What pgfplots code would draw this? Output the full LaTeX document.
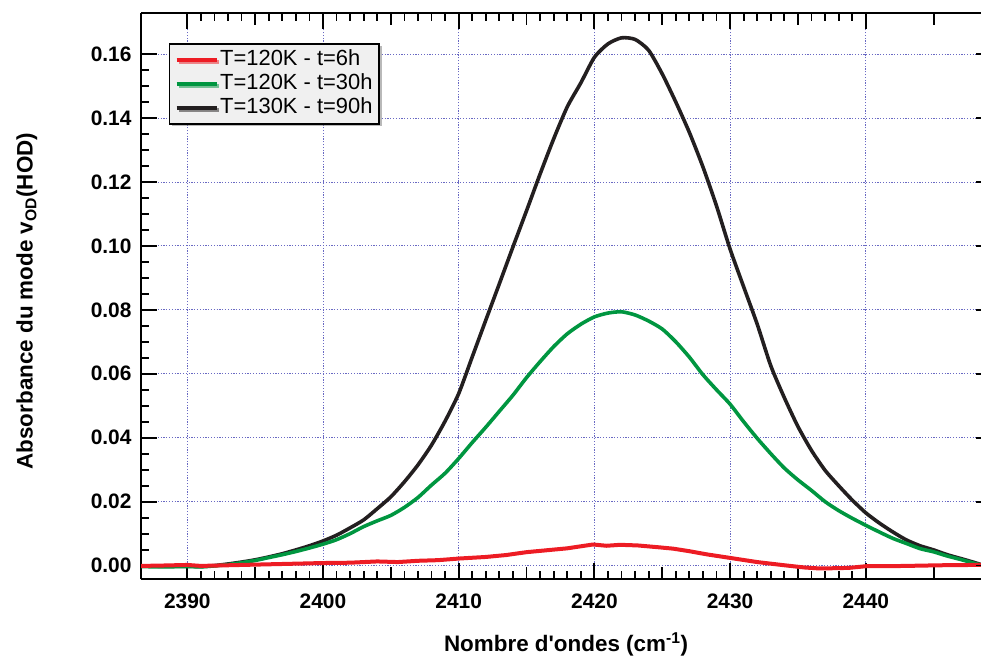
\documentclass[border=0pt]{standalone}
\usepackage{pgfplots}
\pgfplotsset{compat=1.18}
\usepackage{fontspec}
\setmainfont{Liberation Sans}
\usetikzlibrary{calc,shadows}
\definecolor{cred}{RGB}{237,28,36}
\definecolor{cgreen}{RGB}{0,150,64}
\definecolor{cblack}{RGB}{35,31,32}
\definecolor{cgrid}{RGB}{105,105,195}
\definecolor{clegend}{RGB}{240,240,240}
\begin{document}
\begin{tikzpicture}
\begin{axis}[
  scale only axis, width=840bp, height=566.6bp,
  xmin=2386.59, xmax=2448.49, ymin=-0.00429, ymax=0.17296,
  axis x line*=box, axis y line*=left,
  x axis line style={line width=2bp, black},
  y axis line style={-, line width=2bp, black},
  tick align=inside,
  xtick={2390,2400,2410,2420,2430,2440},
  ytick={0,0.02,0.04,0.06,0.08,0.10,0.12,0.14,0.16},
  minor x tick num=9, minor y tick num=3,
  extra x ticks={2395,2405,2415,2425,2435,2445},
  extra x tick labels={},
  extra x tick style={grid=none, major tick length=12bp},
  major tick length=16bp, minor tick length=8bp,
  xtick style={black, line width=1.8bp},
  ytick style={black, line width=1.8bp},
  grid=major,
  major grid style={cgrid, line width=0.9bp, dash pattern=on 1.2bp off 1.6bp},
  scaled y ticks=false,
  /pgf/number format/assume math mode=true,
  xticklabel style={/pgf/number format/1000 sep={}, anchor=base, yshift=-29bp},
  yticklabel style={/pgf/number format/.cd, fixed, fixed zerofill, precision=2, /tikz/.cd, xshift=-6bp},
  tick label style={font=\fontsize{21}{24}\selectfont\bfseries, black},
  label style={font=\fontsize{22.5}{26}\selectfont\bfseries, black},
  xlabel={Nombre d\textquotesingle ondes (cm\textsuperscript{-1})},
  ylabel={Absorbance du mode v\textsubscript{OD}(HOD)},
  xlabel style={at={(axis description cs:0.506,-0.127)}, anchor=base},
  ylabel style={at={(axis description cs:-0.129,0.491)}, anchor=base},
  reverse legend,
  legend cell align=left,
  legend image code/.code={\draw[#1] (2bp,0bp) -- (42bp,0bp);},
  legend style={at={(axis description cs:0.0333,0.9465)}, anchor=north west,
    fill=clegend, draw=black, line width=1.5bp,
    drop shadow={shadow xshift=2.5bp, shadow yshift=-2.5bp, fill=black!55},
    inner xsep=5bp, inner ysep=4bp,
    font=\fontsize{22}{26}\selectfont,
    nodes={inner sep=1.5bp, text height=16bp, text depth=5bp},
    row sep=0bp},
]
\addplot[cblack, line width=3.6bp, smooth, tension=0.4, no markers] coordinates {
(2386.6,-0.0001) (2388,-0.0002) (2390,-0.0002) (2391,-0.0003) (2392,0.0000)
(2393,0.0005) (2394,0.0011) (2395,0.0018) (2396,0.0027) (2397,0.0037)
(2398,0.0049) (2399,0.0062) (2400,0.0077) (2401,0.0095) (2402,0.0118)
(2403,0.0143) (2404,0.0178) (2405,0.0215) (2406,0.0262) (2407,0.0315)
(2408,0.0377) (2409,0.0452) (2410,0.0538) (2411,0.0653) (2412,0.0768)
(2413,0.0882) (2414,0.0997) (2415,0.1110) (2416,0.1225) (2417,0.1335)
(2418,0.1435) (2419,0.1510) (2420,0.1590) (2421,0.1632) (2422,0.1651)
(2423,0.1646) (2424,0.1612) (2425,0.1538) (2426,0.1450) (2427,0.1355)
(2428,0.1247) (2429,0.1125) (2430,0.0990) (2431,0.0872) (2432,0.0755)
(2433,0.0625) (2434,0.0525) (2435,0.0435) (2436,0.0360) (2437,0.0298)
(2438,0.0250) (2439,0.0205) (2440,0.0165) (2441,0.0133) (2442,0.0105)
(2443,0.0080) (2444,0.0062) (2445,0.0049) (2446,0.0034) (2447,0.0022)
(2447.9,0.0011) (2448.5,0.0003)
};
\addplot[cgreen, line width=3.6bp, smooth, tension=0.4, no markers] coordinates {
(2386.6,-0.0003) (2388,-0.0004) (2390,-0.0003) (2391,-0.0004) (2392,-0.0001)
(2393,0.0003) (2394,0.0009) (2395,0.0016) (2396,0.0025) (2397,0.0034)
(2398,0.0044) (2399,0.0055) (2400,0.0067) (2401,0.0081) (2402,0.0100)
(2403,0.0122) (2404,0.0140) (2405,0.0157) (2406,0.0182) (2407,0.0213)
(2408,0.0252) (2409,0.0289) (2410,0.0335) (2411,0.0385) (2412,0.0433)
(2413,0.0483) (2414,0.0533) (2415,0.0588) (2416,0.0638) (2417,0.0685)
(2418,0.0725) (2419,0.0755) (2420,0.0778) (2421,0.0790) (2422,0.0794)
(2423,0.0784) (2424,0.0765) (2425,0.0740) (2426,0.0700) (2427,0.0652)
(2428,0.0597) (2429,0.0550) (2430,0.0505) (2431,0.0450) (2432,0.0398)
(2433,0.0350) (2434,0.0305) (2435,0.0268) (2436,0.0235) (2437,0.0200)
(2438,0.0172) (2439,0.0148) (2440,0.0126) (2441,0.0105) (2442,0.0085)
(2443,0.0069) (2444,0.0053) (2445,0.0043) (2446,0.0030) (2447,0.0019)
(2448,0.0007) (2448.5,0.0002)
};
\addplot[cred, line width=4bp, no markers, line join=round] coordinates {
(2386.6,-0.0001) (2388,0.0000) (2390,0.0002) (2391,-0.0001) (2392,0.0000)
(2394,0.0002) (2396,0.0004) (2398,0.0006) (2400,0.0008) (2402,0.0009)
(2404,0.0013) (2405.5,0.0011) (2407,0.0015) (2408.5,0.0017) (2410,0.0022)
(2412,0.0027) (2413.5,0.0033) (2415,0.0042) (2416.5,0.0048) (2418,0.0054)
(2419.9,0.0066) (2420.9,0.0062) (2421.9,0.0065) (2423.2,0.0063) (2424.8,0.0057)
(2425.8,0.0053) (2427,0.0045) (2428.3,0.0035) (2430,0.0024) (2432,0.0011)
(2434,0.0001) (2435.5,-0.0006) (2436.6,-0.0009) (2438,-0.0008) (2438.8,-0.0007)
(2440,-0.0002) (2441.5,-0.0002) (2443,-0.0001) (2445.5,0.0001) (2447.9,0.0002)
(2448.5,0.0002)
};
\legend{T=130K - t=90h, T=120K - t=30h, T=120K - t=6h}
\coordinate (ll) at (rel axis cs:0,0);
\coordinate (ur) at (rel axis cs:1,1);
\end{axis}
\begin{axis}[
  scale only axis, width=840bp, height=566.6bp,
  xmin=2386.59, xmax=2448.49, ymin=-0.00429, ymax=0.17296,
  axis x line=none, axis y line*=right,
  y axis line style={draw=none},
  tick align=inside,
  ytick={0,0.02,0.04,0.06,0.08,0.10,0.12,0.14,0.16},
  yticklabels={},
  major tick length=5bp,
  ytick style={black, line width=1.8bp},
]
\end{axis}
\pgfresetboundingbox
\path[use as bounding box] ($(ll)+(-141bp,-79.7bp)$) rectangle ($(ur)+(0bp,12.7bp)$);
\end{tikzpicture}
\end{document}
